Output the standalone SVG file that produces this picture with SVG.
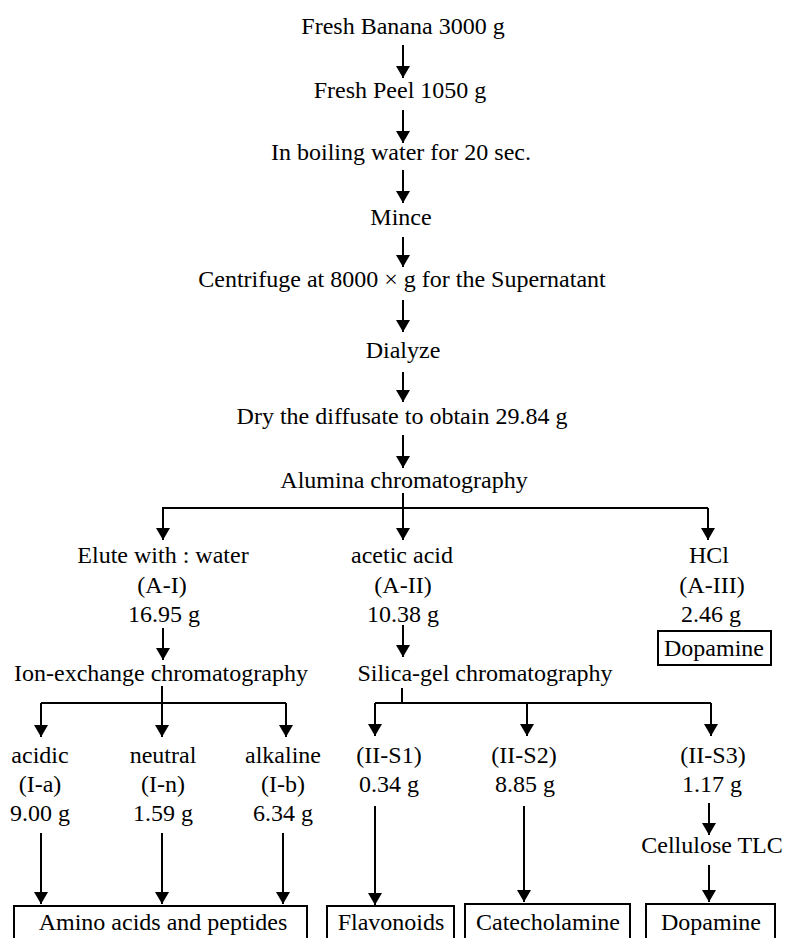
<svg xmlns="http://www.w3.org/2000/svg" width="786" height="938" viewBox="0 0 786 938">
<style>
.t{font-family:"Liberation Serif","Times New Roman",serif;font-size:24px;fill:#000;text-anchor:middle}
.c{stroke:#000;stroke-width:2;fill:none}
.a{stroke:#000;stroke-width:2;fill:none;marker-end:url(#ah)}
.b{stroke:#000;stroke-width:2;fill:#fff}
</style>
<defs>
<marker id="ah" viewBox="0 0 12 14" refX="12" refY="7" markerWidth="12" markerHeight="14" markerUnits="userSpaceOnUse" orient="auto">
<path d="M0,0 L12,7 L0,14 z" fill="#000"/>
</marker>
</defs>
<rect width="786" height="938" fill="#fff"/>
<g id="connectors">
<line class="a" x1="403" y1="45" x2="403" y2="78"/>
<line class="a" x1="403" y1="110" x2="403" y2="143"/>
<line class="a" x1="403" y1="170" x2="403" y2="203"/>
<line class="a" x1="403" y1="237" x2="403" y2="267"/>
<line class="a" x1="403" y1="300" x2="403" y2="332"/>
<line class="a" x1="403" y1="372" x2="403" y2="402"/>
<line class="a" x1="403" y1="435" x2="403" y2="468"/>
<line class="c" x1="403" y1="493" x2="403" y2="508"/>
<polyline class="c" points="163,540 163,508 708,508"/>
<line class="a" x1="163" y1="508" x2="163" y2="540"/>
<line class="a" x1="403" y1="508" x2="403" y2="540"/>
<line class="a" x1="708" y1="508" x2="708" y2="540"/>
<line class="a" x1="163" y1="628" x2="163" y2="660"/>
<line class="a" x1="403" y1="625" x2="403" y2="657"/>
<line class="c" x1="162" y1="686" x2="162" y2="703"/>
<line class="c" x1="41" y1="703" x2="286" y2="703"/>
<line class="a" x1="41" y1="703" x2="41" y2="737"/>
<line class="a" x1="162" y1="703" x2="162" y2="737"/>
<line class="a" x1="286" y1="703" x2="286" y2="737"/>
<line class="c" x1="402" y1="688" x2="402" y2="703"/>
<line class="c" x1="375" y1="703" x2="711" y2="703"/>
<line class="a" x1="375" y1="703" x2="375" y2="736"/>
<line class="a" x1="527" y1="703" x2="527" y2="736"/>
<line class="a" x1="711" y1="703" x2="711" y2="736"/>
<line class="a" x1="41" y1="833" x2="41" y2="904"/>
<line class="a" x1="162" y1="833" x2="162" y2="904"/>
<line class="a" x1="283" y1="833" x2="283" y2="904"/>
<line class="a" x1="375" y1="806" x2="375" y2="905"/>
<line class="a" x1="524" y1="806" x2="524" y2="902"/>
<line class="a" x1="709" y1="803" x2="709" y2="835"/>
<line class="a" x1="709" y1="865" x2="709" y2="902"/>
</g>
<g id="n-banana"><text class="t" x="403" y="34">Fresh Banana 3000 g</text></g>
<g id="n-peel"><text class="t" x="400" y="98">Fresh Peel 1050 g</text></g>
<g id="n-boil"><text class="t" x="401" y="160">In boiling water for 20 sec.</text></g>
<g id="n-mince"><text class="t" x="401" y="225">Mince</text></g>
<g id="n-centrifuge"><text class="t" x="402" y="287">Centrifuge at 8000 × g for the Supernatant</text></g>
<g id="n-dialyze"><text class="t" x="403" y="358">Dialyze</text></g>
<g id="n-dry"><text class="t" x="402" y="424">Dry the diffusate to obtain 29.84 g</text></g>
<g id="n-alumina"><text class="t" x="404" y="488">Alumina chromatography</text></g>
<g id="n-AI"><text class="t" x="163" y="563">Elute with : water</text><text class="t" x="162" y="593">(A-I)</text><text class="t" x="164" y="622">16.95 g</text></g>
<g id="n-AII"><text class="t" x="402" y="563">acetic acid</text><text class="t" x="403" y="593">(A-II)</text><text class="t" x="403" y="622">10.38 g</text></g>
<g id="n-AIII"><text class="t" x="709" y="563">HCl</text><text class="t" x="712" y="593">(A-III)</text><text class="t" x="711" y="622">2.46 g</text></g>
<g id="n-dopamine1"><rect class="b" x="658" y="631" width="113" height="34"/><text class="t" x="714" y="656">Dopamine</text></g>
<g id="n-ion"><text class="t" x="161" y="681">Ion-exchange chromatography</text></g>
<g id="n-silica"><text class="t" x="485" y="681">Silica-gel chromatography</text></g>
<g id="n-Ia"><text class="t" x="40" y="763">acidic</text><text class="t" x="40" y="792">(I-a)</text><text class="t" x="40" y="821">9.00 g</text></g>
<g id="n-In"><text class="t" x="163" y="763">neutral</text><text class="t" x="163" y="792">(I-n)</text><text class="t" x="163" y="821">1.59 g</text></g>
<g id="n-Ib"><text class="t" x="283" y="763">alkaline</text><text class="t" x="283" y="792">(I-b)</text><text class="t" x="283" y="821">6.34 g</text></g>
<g id="n-S1"><text class="t" x="389" y="763">(II-S1)</text><text class="t" x="389" y="792">0.34 g</text></g>
<g id="n-S2"><text class="t" x="524" y="763">(II-S2)</text><text class="t" x="525" y="792">8.85 g</text></g>
<g id="n-S3"><text class="t" x="713" y="763">(II-S3)</text><text class="t" x="712" y="792">1.17 g</text></g>
<g id="n-tlc"><text class="t" x="712" y="853">Cellulose TLC</text></g>
<g id="n-amino"><rect class="b" x="14" y="906" width="293" height="40"/><text class="t" x="163" y="930">Amino acids and peptides</text></g>
<g id="n-flav"><rect class="b" x="327" y="906" width="127" height="40"/><text class="t" x="391" y="930">Flavonoids</text></g>
<g id="n-cat"><rect class="b" x="465" y="904" width="165" height="42"/><text class="t" x="548" y="930">Catecholamine</text></g>
<g id="n-dopamine2"><rect class="b" x="646" y="904" width="129" height="42"/><text class="t" x="711" y="930">Dopamine</text></g>
</svg>
